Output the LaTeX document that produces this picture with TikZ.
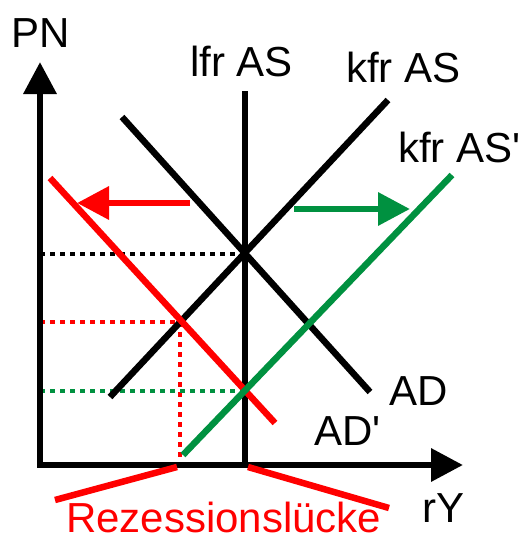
\documentclass[tikz,border=0pt]{standalone}
\usepackage{fontspec}
\setmainfont{Liberation Sans}
\usetikzlibrary{arrows.meta}
\definecolor{myred}{RGB}{255,0,0}
\definecolor{mygreen}{RGB}{0,145,64}
\begin{document}
\begin{tikzpicture}[x=1pt,y=-1pt,
  lbl/.style={anchor=base west,inner sep=0pt,font=\fontsize{42}{46}\selectfont},
  curve/.style={line width=6.5pt},
  guide/.style={line width=3.2pt,dash pattern=on 5pt off 5pt},
  tip/.style={-{Triangle[length=32pt,width=32pt]}}]
\useasboundingbox (0,0) rectangle (522,538);
% coordinates
\coordinate (o) at (40,465);
\coordinate (ytip) at (40,62);
\coordinate (xtip) at (463,465);
\coordinate (lfrT) at (245,91);
\coordinate (lfrB) at (245,465);
\coordinate (asA) at (110,397);
\coordinate (asB) at (388,100);
\coordinate (adA) at (122,117);
\coordinate (adB) at (370,392);
\coordinate (adpA) at (50,178);
\coordinate (adpB) at (275,423);
\coordinate (aspA) at (183,455);
\coordinate (aspB) at (452,175);
\coordinate (E0) at (245,254);
\coordinate (E0y) at (40,254);
\coordinate (E1) at (180,322);
\coordinate (E1y) at (40,322);
\coordinate (E1x) at (180,465);
\coordinate (E2) at (245,391);
\coordinate (E2y) at (40,391);
\coordinate (rs) at (190,203);
\coordinate (re) at (77,203);
\coordinate (gs) at (294,209);
\coordinate (ge) at (410,209);
\coordinate (b1) at (55,500);
\coordinate (b2) at (177,467);
\coordinate (b3) at (248,467);
\coordinate (b4) at (389,508);
% guides
\draw[guide,black] (E0y) -- (E0);
\draw[guide,myred] (E1y) -- (E1) -- (E1x);
\draw[guide,mygreen] (E2y) -- (E2);
% curves
\draw[curve] (lfrT) -- (lfrB);
\draw[curve] (asA) -- (asB);
\draw[curve] (adA) -- (adB);
\draw[curve,myred] (adpA) -- (adpB);
\draw[curve,mygreen] (aspA) -- (aspB);
% shift arrows
\draw[curve,myred,tip] (rs) -- (re);
\draw[curve,mygreen,tip] (gs) -- (ge);
% axes
\draw[line width=6.5pt,line join=miter,{Triangle[length=32pt,width=32pt]}-{Triangle[length=32pt,width=32pt]}] (ytip) -- (o) -- (xtip);
% recession gap brackets
\draw[curve,myred] (b1) -- (b2);
\draw[curve,myred] (b3) -- (b4);
% labels
\node[lbl] (pn) at (11,47) {PN};
\node[lbl] (lfr) at (190,76) {lfr AS};
\node[lbl] (kfr) at (346,82) {kfr AS};
\node[lbl] (kfrp) at (398,162) {kfr AS\textquotesingle};
\node[lbl] (ad) at (389,405) {AD};
\node[lbl] (adp) at (314,445) {AD\textquotesingle};
\node[lbl] (ry) at (422,522) {rY};
\node[lbl,text=myred] (rez) at (66,532) {Rezessionslücke};
\end{tikzpicture}
\end{document}
